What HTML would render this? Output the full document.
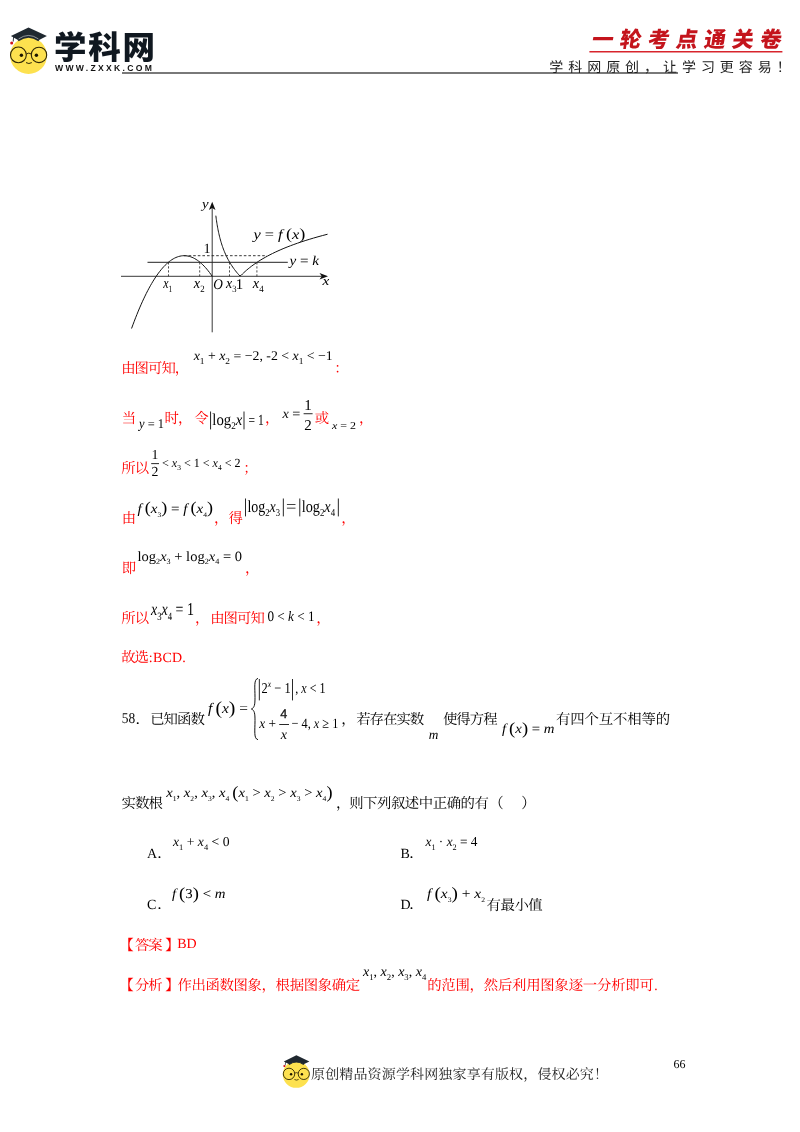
<!DOCTYPE html>
<html lang="zh-CN"><head><meta charset="utf-8"><title>一轮考点通关卷</title>
<style>
html,body{margin:0;padding:0;background:#fff;}
body{width:800px;height:1132px;overflow:hidden;}
svg{display:block;will-change:transform;}
svg text{font-family:'Liberation Serif','Noto Serif CJK SC',serif;white-space:pre;text-rendering:geometricPrecision;}
</style></head><body>
<svg width="800" height="1132" viewBox="0 0 800 1132">
<g id="logo">
<circle cx="28.5" cy="55.6" r="18.4" fill="#fde14f"/>
<path d="M10.9 36.1 L28.5 27.6 L46.9 36.1 L38.6 40.2 Q28.5 33.5 18.4 40.2 Z" fill="#1f2830"/>
<path d="M18.2 40.6 Q28.5 33.2 38.8 40.6" fill="none" stroke="#1f2830" stroke-width="1.6"/>
<path d="M18.6 38.9 Q28.5 32 38.4 38.9" fill="none" stroke="#fff" stroke-width="0.5"/>
<path d="M13.6 37 L13.2 41.6" stroke="#1f2830" stroke-width="0.9" fill="none"/>
<circle cx="11.7" cy="42.9" r="1.5" fill="#d0121b"/>
<circle cx="18.4" cy="54.9" r="7.9" fill="none" stroke="#2e2605" stroke-width="1.1"/>
<circle cx="39" cy="54.9" r="7.7" fill="none" stroke="#2e2605" stroke-width="1.1"/>
<path d="M26.3 54 Q28.8 52.2 31.3 54" fill="none" stroke="#2e2605" stroke-width="1"/>
<circle cx="21.4" cy="55.3" r="1.7" fill="#1b1500"/>
<circle cx="36.4" cy="55.3" r="1.7" fill="#1b1500"/>
<path d="M26 62.6 Q28.9 64.4 31.8 62.6" fill="none" stroke="#2e2605" stroke-width="1"/>
</g>
<text x="54.00" y="58.50" font-size="32.50" fill="#101820" letter-spacing="1.80" font-weight="900" style="font-family:'Liberation Sans','Noto Sans CJK SC',sans-serif">学科网</text>
<text x="55.00" y="71.30" font-size="8.60" fill="#111" letter-spacing="2.30" font-weight="700" style="font-family:'Liberation Sans','Noto Sans CJK SC',sans-serif">WWW.ZXXK.COM</text>
<rect x="122" y="72.4" width="556" height="1.2" fill="#222"/>
<text transform="translate(591,47) skewX(-9)" font-size="21.5" font-weight="900" fill="#c4141c" letter-spacing="6.55" style="font-family:'Noto Sans CJK SC',sans-serif">一轮考点通关卷</text>
<rect x="589.4" y="51" width="193" height="1.5" fill="#d8242c"/>
<text x="549.30" y="71.60" font-size="14.00" fill="#222" letter-spacing="4.95" style="font-family:'Liberation Sans','Noto Sans CJK SC',sans-serif">学科网原创，让学习更容易！</text>
<g id="graph"><line x1="121" y1="276.3" x2="322" y2="276.3" stroke="#222" stroke-width="0.9"/><path d="M328 276.3 L319.5 273.1 L321.8 276.3 L319.5 279.5 Z" fill="#111"/><line x1="212.2" y1="208" x2="212.2" y2="332.3" stroke="#222" stroke-width="0.9"/><path d="M212.2 201.8 L208.89999999999998 210 L212.2 208 L215.5 210 Z" fill="#111"/><polyline points="131.56,328.51 132.90,324.84 134.25,321.26 135.59,317.78 136.94,314.40 138.28,311.11 139.62,307.91 140.97,304.81 142.31,301.80 143.66,298.89 145.00,296.08 146.34,293.35 147.69,290.73 149.03,288.20 150.38,285.76 151.72,283.42 153.06,281.17 154.41,279.02 155.75,276.96 157.10,275.00 158.44,273.14 159.78,271.36 161.13,269.69 162.47,268.10 163.82,266.62 165.16,265.23 166.50,263.93 167.85,262.73 169.19,261.62 170.54,260.61 171.88,259.69 173.22,258.87 174.57,258.14 175.91,257.50 177.26,256.97 178.60,256.52 179.94,256.18 181.29,255.92 182.63,255.76 183.98,255.70 185.32,255.73 186.66,255.86 188.01,256.08 189.35,256.40 190.70,256.81 192.04,257.32 193.38,257.92 194.73,258.61 196.07,259.40 197.42,260.29 198.76,261.27 200.10,262.35 201.45,263.52 202.79,264.78 204.14,266.14 205.48,267.60 206.82,269.15 208.17,270.79 209.51,272.53 210.86,274.37 212.20,276.30" fill="none" stroke="#111" stroke-width="1"/><polyline points="215.84,215.67 216.00,216.95 216.17,218.23 216.34,219.52 216.53,220.80 216.72,222.09 216.92,223.37 217.13,224.65 217.34,225.94 217.57,227.22 217.81,228.50 218.05,229.79 218.31,231.07 218.58,232.36 218.86,233.64 219.16,234.92 219.47,236.21 219.79,237.49 220.12,238.78 220.47,240.06 220.84,241.34 221.22,242.63 221.62,243.91 222.03,245.20 222.47,246.48 222.92,247.76 223.39,249.05 223.89,250.33 224.40,251.62 224.94,252.90 225.50,254.18 226.09,255.47 226.70,256.75 227.34,258.03 228.01,259.32 228.71,260.60 229.44,261.89 230.20,263.17 231.00,264.45 231.83,265.74 232.69,267.02 233.60,268.31 234.54,269.59 235.53,270.87 236.56,272.16 237.63,273.44 238.76,274.73 239.93,276.01 241.15,275.31 242.43,274.02 243.76,272.74 245.16,271.45 246.61,270.17 248.13,268.89 249.72,267.60 251.37,266.32 253.10,265.04 254.91,263.75 256.80,262.47 258.76,261.18 260.82,259.90 262.97,258.62 265.21,257.33 267.55,256.05 269.99,254.76 272.54,253.48 275.21,252.20 277.99,250.91 280.89,249.63 283.93,248.34 287.09,247.06 290.40,245.78 293.85,244.49 297.46,243.21 301.22,241.92 305.15,240.64 309.25,239.36 313.54,238.07 318.01,236.79 322.68,235.51 327.56,234.22" fill="none" stroke="#111" stroke-width="1"/><line x1="147.5" y1="262.3" x2="287.8" y2="262.3" stroke="#222" stroke-width="1"/><line x1="184" y1="255.7" x2="267" y2="255.7" stroke="#222" stroke-width="0.9" stroke-dasharray="2.6 2"/><line x1="168.5" y1="262.3" x2="168.5" y2="276.3" stroke="#222" stroke-width="0.8" stroke-dasharray="2.2 1.8"/><line x1="199.7" y1="262.3" x2="199.7" y2="276.3" stroke="#222" stroke-width="0.8" stroke-dasharray="2.2 1.8"/><line x1="229.5" y1="262.3" x2="229.5" y2="276.3" stroke="#222" stroke-width="0.8" stroke-dasharray="2.2 1.8"/><line x1="256.9" y1="262.3" x2="256.9" y2="276.3" stroke="#222" stroke-width="0.8" stroke-dasharray="2.2 1.8"/></g>
<text id="m1" transform="translate(202,207.8) scale(1.1416,1.0000)" font-size="13" fill="#000"><tspan font-style="italic">y</tspan></text>
<text id="m2" transform="translate(322.6,285.3) scale(1.1762,1.0000)" font-size="13" fill="#000"><tspan font-style="italic">x</tspan></text>
<text id="m3" transform="translate(203.6,253.4)" font-size="14.2" fill="#000"><tspan>1</tspan></text>
<text id="m4" transform="translate(163.2,288) scale(0.7701,1.0000)" font-size="15.5" fill="#000"><tspan font-style="italic">x</tspan><tspan font-size="9.61" dy="4.19">1</tspan><tspan dy="-4.19">​</tspan></text>
<text id="m5" transform="translate(193.8,288) scale(0.9241,1.0000)" font-size="15.5" fill="#000"><tspan font-style="italic">x</tspan><tspan font-size="9.61" dy="4.19">2</tspan><tspan dy="-4.19">​</tspan></text>
<text id="m6" transform="translate(213.2,289.2) scale(0.8982,1.0000)" font-size="14.8" fill="#000"><tspan font-style="italic">O</tspan></text>
<text id="m7" transform="translate(226,288) scale(0.8984,1.0000)" font-size="15.5" fill="#000"><tspan font-style="italic">x</tspan><tspan font-size="9.61" dy="4.19">3</tspan><tspan dy="-4.19">​</tspan></text>
<text id="m8" transform="translate(235.8,289.2)" font-size="14.8" fill="#000"><tspan>1</tspan></text>
<text id="m9" transform="translate(252.8,288) scale(0.9241,1.0000)" font-size="15.5" fill="#000"><tspan font-style="italic">x</tspan><tspan font-size="9.61" dy="4.19">4</tspan><tspan dy="-4.19">​</tspan></text>
<text id="m10" transform="translate(253.4,238.6) scale(1.1681,1.0000)" font-size="14" fill="#000"><tspan font-style="italic">y</tspan><tspan> = </tspan><tspan font-style="italic">f</tspan><tspan> </tspan><tspan font-size="15.68" dy="0.30">(</tspan><tspan font-style="italic" dy="-0.30">x</tspan><tspan font-size="15.68" dy="0.30">)</tspan><tspan dy="-0.30">​</tspan></text>
<text id="m11" transform="translate(289.4,264.7) scale(1.1185,1.0000)" font-size="13.5" fill="#000"><tspan font-style="italic">y</tspan><tspan> = </tspan><tspan font-style="italic">k</tspan></text>
<text x="121.13" y="372.86" font-size="14.38" fill="#ff0000" letter-spacing="-0.94">由图可知，</text>
<text id="m12" transform="translate(193.7,360) scale(1.0308,1.0000)" font-size="13.4" fill="#000"><tspan font-style="italic">x</tspan><tspan font-size="9.11" dy="3.62">1</tspan><tspan dy="-3.62"> + </tspan><tspan font-style="italic">x</tspan><tspan font-size="9.11" dy="3.62">2</tspan><tspan dy="-3.62"> = −2, -2 &lt; </tspan><tspan font-style="italic">x</tspan><tspan font-size="9.11" dy="3.62">1</tspan><tspan dy="-3.62"> &lt; −1</tspan></text>
<text x="334.13" y="373.46" font-size="14.38" fill="#ff0000" letter-spacing="-0.94">：</text>
<text x="121.83" y="423.26" font-size="14.38" fill="#ff0000" letter-spacing="-0.94">当</text>
<text id="m13" transform="translate(139,427.5) scale(0.9292,1.0000)" font-size="13.4" fill="#000"><tspan font-style="italic">y</tspan><tspan> = 1</tspan></text>
<text x="164.53" y="423.26" font-size="14.38" fill="#ff0000" letter-spacing="-0.94">时，</text>
<text x="194.13" y="423.26" font-size="14.38" fill="#ff0000" letter-spacing="-0.94">令</text>
<rect x="210.15" y="411.5" width="0.9" height="17.90" fill="#111"/>
<text id="m14" transform="translate(212.3,424.75) scale(0.8947,1.0000)" font-size="16.5" fill="#000"><tspan>log</tspan><tspan font-size="10.23" dy="4.46">2</tspan><tspan font-style="italic" dy="-4.46">x</tspan></text>
<rect x="243.55" y="411.5" width="0.9" height="17.90" fill="#111"/>
<text id="m15" transform="translate(248.6,424.75) scale(0.7512,1.0000)" font-size="15.4" fill="#000"><tspan>= 1</tspan></text>
<text x="265.03" y="423.26" font-size="14.38" fill="#ff0000" letter-spacing="-0.94">，</text>
<text id="m16" transform="translate(282.4,418) scale(1.0588,1.0000)" font-size="13.5" fill="#000"><tspan font-style="italic">x</tspan><tspan> =</tspan></text>
<text id="m17" transform="translate(304.2,409.5)" font-size="15" fill="#000"><tspan>1</tspan></text>
<rect x="303.6" y="413.3" width="9" height="0.9" fill="#111"/>
<text id="m18" transform="translate(304.2,429.6)" font-size="15" fill="#000"><tspan>2</tspan></text>
<text x="314.73" y="423.26" font-size="14.38" fill="#ff0000" letter-spacing="-0.94">或</text>
<text id="m19" transform="translate(332,428.7) scale(1.1378,1.0000)" font-size="10.5" fill="#000"><tspan font-style="italic">x</tspan><tspan> = 2</tspan></text>
<text x="358.93" y="423.26" font-size="14.38" fill="#ff0000" letter-spacing="-0.94">，</text>
<text x="121.33" y="472.66" font-size="14.38" fill="#ff0000" letter-spacing="-0.94">所以</text>
<text id="m20" transform="translate(151.6,458.8)" font-size="13.8" fill="#000"><tspan>1</tspan></text>
<rect x="151.2" y="463.2" width="7.8" height="0.9" fill="#111"/>
<text id="m21" transform="translate(151.6,476.4)" font-size="13.8" fill="#000"><tspan>2</tspan></text>
<text id="m22" transform="translate(162,467) scale(0.9723,1.0000)" font-size="12.4" fill="#000"><tspan>&lt; </tspan><tspan font-style="italic">x</tspan><tspan font-size="7.69" dy="3.35">3</tspan><tspan dy="-3.35"> &lt; 1 &lt; </tspan><tspan font-style="italic">x</tspan><tspan font-size="7.69" dy="3.35">4</tspan><tspan dy="-3.35"> &lt; 2</tspan></text>
<text x="243.13" y="472.66" font-size="14.38" fill="#ff0000" letter-spacing="-0.94">；</text>
<text x="121.83" y="522.86" font-size="14.38" fill="#ff0000" letter-spacing="-0.94">由</text>
<text id="m23" transform="translate(137.5,513) scale(1.0922,1.0000)" font-size="13.8" fill="#000"><tspan font-style="italic">f</tspan><tspan> </tspan><tspan font-size="16.56" dy="0.40">(</tspan><tspan font-style="italic" dy="-0.40">x</tspan><tspan font-size="6.90" dy="3.73">3</tspan><tspan font-size="16.56" dy="-3.33">)</tspan><tspan dy="-0.40"> = </tspan><tspan font-style="italic">f</tspan><tspan> </tspan><tspan font-size="16.56" dy="0.40">(</tspan><tspan font-style="italic" dy="-0.40">x</tspan><tspan font-size="6.90" dy="3.73">4</tspan><tspan font-size="16.56" dy="-3.33">)</tspan><tspan dy="-0.40">​</tspan></text>
<text x="213.93" y="522.86" font-size="14.38" fill="#ff0000" letter-spacing="-0.94">，</text>
<text x="228.53" y="522.86" font-size="14.38" fill="#ff0000" letter-spacing="-0.94">得</text>
<rect x="245.05" y="498.5" width="0.9" height="17.90" fill="#111"/>
<text id="m24" transform="translate(247.4,511.6) scale(0.8214,1.0000)" font-size="17" fill="#000"><tspan>log</tspan><tspan font-size="10.54" dy="4.59">2</tspan><tspan font-style="italic" dy="-4.59">x</tspan><tspan font-size="10.54" dy="4.59">3</tspan><tspan dy="-4.59">​</tspan></text>
<rect x="282.85" y="498.5" width="0.9" height="17.90" fill="#111"/>
<text id="m25" transform="translate(286,511.6) scale(1.0840,1.0000)" font-size="17" fill="#000"><tspan>=</tspan></text>
<rect x="299.35" y="498.5" width="0.9" height="17.90" fill="#111"/>
<text id="m26" transform="translate(301.7,511.6) scale(0.8389,1.0000)" font-size="17" fill="#000"><tspan>log</tspan><tspan font-size="10.54" dy="4.59">2</tspan><tspan font-style="italic" dy="-4.59">x</tspan><tspan font-size="10.54" dy="4.59">4</tspan><tspan dy="-4.59">​</tspan></text>
<rect x="337.85" y="498.5" width="0.9" height="17.90" fill="#111"/>
<text x="341.33" y="522.86" font-size="14.38" fill="#ff0000" letter-spacing="-0.94">，</text>
<text x="121.83" y="572.86" font-size="14.38" fill="#ff0000" letter-spacing="-0.94">即</text>
<text id="m27" transform="translate(137.5,560.5) scale(1.0236,1.0000)" font-size="14.2" fill="#000"><tspan>log</tspan><tspan font-size="7.95" dy="3.83">2</tspan><tspan font-style="italic" dy="-3.83">x</tspan><tspan font-size="7.95" dy="3.83">3</tspan><tspan dy="-3.83"> + </tspan><tspan>log</tspan><tspan font-size="7.95" dy="3.83">2</tspan><tspan font-style="italic" dy="-3.83">x</tspan><tspan font-size="7.95" dy="3.83">4</tspan><tspan dy="-3.83"> = 0</tspan></text>
<text x="244.93" y="572.86" font-size="14.38" fill="#ff0000" letter-spacing="-0.94">，</text>
<text x="121.33" y="622.86" font-size="14.38" fill="#ff0000" letter-spacing="-0.94">所以</text>
<text id="m28" transform="translate(151,615) scale(0.7774,1.0000)" font-size="18" fill="#000"><tspan font-style="italic">x</tspan><tspan font-size="11.16" dy="4.86">3</tspan><tspan font-style="italic" dy="-4.86">x</tspan><tspan font-size="11.16" dy="4.86">4</tspan><tspan dy="-4.86"> = 1</tspan></text>
<text x="194.93" y="622.86" font-size="14.38" fill="#ff0000" letter-spacing="-0.94">，</text>
<text x="210.13" y="622.86" font-size="14.38" fill="#ff0000" letter-spacing="-0.94">由图可知</text>
<text id="m29" transform="translate(267.5,621.3) scale(0.9071,1.0000)" font-size="14.5" fill="#000"><tspan>0 &lt; </tspan><tspan font-style="italic">k</tspan><tspan> &lt; 1</tspan></text>
<text x="316.33" y="622.86" font-size="14.38" fill="#ff0000" letter-spacing="-0.94">，</text>
<text x="121.13" y="662.46" font-size="14.38" fill="#ff0000" letter-spacing="-0.94">故选</text>
<text x="148.80" y="662.40" font-size="14.00" fill="#ff0000" letter-spacing="0.20">:BCD.</text>
<text id="m30" transform="translate(121.8,723.2) scale(1.0000,1.1200)" font-size="13.44" fill="#000"><tspan>58</tspan></text>
<text x="135.53" y="723.66" font-size="14.38" fill="#000" letter-spacing="-0.94">．</text>
<text x="150.13" y="723.66" font-size="14.38" fill="#000" letter-spacing="-0.94">已知函数</text>
<text id="m31" transform="translate(208,713.2) scale(1.0649,1.0000)" font-size="14.5" fill="#000"><tspan font-style="italic">f</tspan><tspan> </tspan><tspan font-size="18.56" dy="0.80">(</tspan><tspan font-style="italic" dy="-0.80">x</tspan><tspan font-size="18.56" dy="0.80">)</tspan><tspan dy="-0.80"> =</tspan></text>
<path d="M258 678.4 C253.6 679.4 255 687 255 697.5 C255 704.5 254.6 707.6 251.4 709 C254.6 710.4 255 713.5 255 720.5 C255 731 253.6 738.7 258 739.7" fill="none" stroke="#111" stroke-width="1"/>
<rect x="258.85" y="679" width="0.9" height="21.40" fill="#111"/>
<text id="m32" transform="translate(261.6,693.4) scale(0.8260,1.0000)" font-size="15" fill="#000"><tspan>2</tspan><tspan font-style="italic" font-size="9.30" dy="-6.30">x</tspan><tspan dy="6.30"> − 1</tspan></text>
<rect x="292.05" y="679" width="0.9" height="21.40" fill="#111"/>
<text id="m33" transform="translate(295.3,693.4) scale(0.8023,1.0000)" font-size="15" fill="#000"><tspan>, </tspan><tspan font-style="italic">x</tspan><tspan> &lt; 1</tspan></text>
<text id="m34" transform="translate(259.2,727.8) scale(0.9399,1.0000)" font-size="14.2" fill="#000"><tspan font-style="italic">x</tspan><tspan> +</tspan></text>
<text x="280.2" y="717.7" font-size="12.6" font-weight="400" stroke="#111" stroke-width="0.3" fill="#111" style="font-family:'Liberation Sans','Noto Sans CJK SC',sans-serif">4</text>
<rect x="279.2" y="724.05" width="9.80" height="0.9" fill="#111"/>
<text id="m35" transform="translate(280.8,738.6)" font-size="14.2" fill="#000"><tspan font-style="italic">x</tspan></text>
<text id="m36" transform="translate(291.6,727.6) scale(0.8641,1.0000)" font-size="14.2" fill="#000"><tspan>− 4, </tspan><tspan font-style="italic">x</tspan><tspan> ≥ 1</tspan></text>
<text x="341.13" y="723.66" font-size="14.38" fill="#000" letter-spacing="-0.94">，</text>
<text x="356.13" y="723.66" font-size="14.38" fill="#000" letter-spacing="-0.94">若存在实数</text>
<text id="m37" transform="translate(428.8,738.8) scale(0.9846,1.0000)" font-size="13.5" fill="#000"><tspan font-style="italic">m</tspan></text>
<text x="442.93" y="723.66" font-size="14.38" fill="#000" letter-spacing="-0.94">使得方程</text>
<text id="m38" transform="translate(502,733) scale(1.0912,1.0000)" font-size="13.6" fill="#000"><tspan font-style="italic">f</tspan><tspan> </tspan><tspan font-size="17.00" dy="0.60">(</tspan><tspan font-style="italic" dy="-0.60">x</tspan><tspan font-size="17.00" dy="0.60">)</tspan><tspan dy="-0.60"> = </tspan><tspan font-style="italic">m</tspan></text>
<text x="555.93" y="723.66" font-size="14.38" fill="#000" letter-spacing="-0.12">有四个互不相等的</text>
<text x="121.53" y="808.26" font-size="14.38" fill="#000" letter-spacing="-0.94">实数根</text>
<text id="m39" transform="translate(166.2,796.9) scale(1.0606,1.0000)" font-size="13.8" fill="#000"><tspan font-style="italic">x</tspan><tspan font-size="7.18" dy="3.73">1</tspan><tspan dy="-3.73">, </tspan><tspan font-style="italic">x</tspan><tspan font-size="7.18" dy="3.73">2</tspan><tspan dy="-3.73">, </tspan><tspan font-style="italic">x</tspan><tspan font-size="7.18" dy="3.73">3</tspan><tspan dy="-3.73">, </tspan><tspan font-style="italic">x</tspan><tspan font-size="7.18" dy="3.73">4</tspan><tspan dy="-3.73"> </tspan><tspan font-size="17.25" dy="0.60">(</tspan><tspan font-style="italic" dy="-0.60">x</tspan><tspan font-size="7.18" dy="3.73">1</tspan><tspan dy="-3.73"> &gt; </tspan><tspan font-style="italic">x</tspan><tspan font-size="7.18" dy="3.73">2</tspan><tspan dy="-3.73"> &gt; </tspan><tspan font-style="italic">x</tspan><tspan font-size="7.18" dy="3.73">3</tspan><tspan dy="-3.73"> &gt; </tspan><tspan font-style="italic">x</tspan><tspan font-size="7.18" dy="3.73">4</tspan><tspan font-size="17.25" dy="-3.13">)</tspan><tspan dy="-0.60">​</tspan></text>
<text x="335.93" y="808.26" font-size="14.38" fill="#000" letter-spacing="-0.94">，</text>
<text x="349.13" y="808.26" font-size="14.38" fill="#000" letter-spacing="-0.44">则下列叙述中正确的有</text>
<text x="489.13" y="808.26" font-size="14.38" fill="#000" letter-spacing="-0.94">（</text>
<text x="521.13" y="808.26" font-size="14.38" fill="#000" letter-spacing="-0.94">）</text>
<text x="147.00" y="857.50" font-size="14.00" fill="#000">A</text>
<text x="157.13" y="857.86" font-size="14.38" fill="#000" letter-spacing="-0.94">．</text>
<text id="m40" transform="translate(173,846.3) scale(1.0042,1.0000)" font-size="13.6" fill="#000"><tspan font-style="italic">x</tspan><tspan font-size="8.43" dy="3.67">1</tspan><tspan dy="-3.67"> + </tspan><tspan font-style="italic">x</tspan><tspan font-size="8.43" dy="3.67">4</tspan><tspan dy="-3.67"> &lt; 0</tspan></text>
<text x="400.50" y="857.50" font-size="14.00" fill="#000">B</text>
<text x="409.13" y="857.86" font-size="14.38" fill="#000" letter-spacing="-0.94">．</text>
<text id="m41" transform="translate(425.5,846.3) scale(0.9788,1.0000)" font-size="13.6" fill="#000"><tspan font-style="italic">x</tspan><tspan font-size="8.43" dy="3.67">1</tspan><tspan dy="-3.67"> · </tspan><tspan font-style="italic">x</tspan><tspan font-size="8.43" dy="3.67">2</tspan><tspan dy="-3.67"> = 4</tspan></text>
<text x="147.00" y="908.80" font-size="14.00" fill="#000">C</text>
<text x="157.13" y="909.16" font-size="14.38" fill="#000" letter-spacing="-0.94">．</text>
<text id="m42" transform="translate(172,898.4) scale(1.0929,1.0000)" font-size="13.6" fill="#000"><tspan font-style="italic">f</tspan><tspan> </tspan><tspan font-size="17.00" dy="0.60">(</tspan><tspan dy="-0.60">3</tspan><tspan font-size="17.00" dy="0.60">)</tspan><tspan dy="-0.60"> &lt; </tspan><tspan font-style="italic">m</tspan></text>
<text x="400.50" y="908.80" font-size="14.00" fill="#000">D</text>
<text x="409.13" y="909.16" font-size="14.38" fill="#000" letter-spacing="-0.94">．</text>
<text id="m43" transform="translate(427,898.4) scale(1.1164,1.0000)" font-size="13.8" fill="#000"><tspan font-style="italic">f</tspan><tspan> </tspan><tspan font-size="17.25" dy="0.60">(</tspan><tspan font-style="italic" dy="-0.60">x</tspan><tspan font-size="6.90" dy="3.73">3</tspan><tspan font-size="17.25" dy="-3.13">)</tspan><tspan dy="-0.60"> + </tspan><tspan font-style="italic">x</tspan><tspan font-size="6.90" dy="3.73">2</tspan><tspan dy="-3.73">​</tspan></text>
<text x="486.53" y="909.86" font-size="14.38" fill="#000" letter-spacing="-0.44">有最小值</text>
<text x="119.33" y="950.06" font-size="14.38" fill="#ff0000" letter-spacing="-0.94" font-weight="700">【</text>
<text x="134.93" y="950.06" font-size="14.38" fill="#ff0000" letter-spacing="-0.94">答案</text>
<text x="165.33" y="950.06" font-size="14.38" fill="#ff0000" letter-spacing="-0.94" font-weight="700">】</text>
<text x="177.20" y="948.20" font-size="14.00" fill="#ff0000">BD</text>
<text x="119.33" y="990.06" font-size="14.38" fill="#ff0000" letter-spacing="-0.94" font-weight="700">【</text>
<text x="134.93" y="990.06" font-size="14.38" fill="#ff0000" letter-spacing="-0.94">分析</text>
<text x="165.33" y="990.06" font-size="14.38" fill="#ff0000" letter-spacing="-0.94" font-weight="700">】</text>
<text x="177.53" y="990.06" font-size="14.38" fill="#ff0000" letter-spacing="-0.36">作出函数图象，根据图象确定</text>
<text id="m44" transform="translate(363,976.3)" font-size="14" fill="#000"><tspan font-style="italic">x</tspan><tspan font-size="8.68" dy="3.78">1</tspan><tspan dy="-3.78">, </tspan><tspan font-style="italic">x</tspan><tspan font-size="8.68" dy="3.78">2</tspan><tspan dy="-3.78">, </tspan><tspan font-style="italic">x</tspan><tspan font-size="8.68" dy="3.78">3</tspan><tspan dy="-3.78">, </tspan><tspan font-style="italic">x</tspan><tspan font-size="8.68" dy="3.78">4</tspan><tspan dy="-3.78">​</tspan></text>
<text x="427.13" y="990.06" font-size="14.38" fill="#ff0000" letter-spacing="-0.22">的范围，然后利用图象逐一分析即可</text>
<text x="654.20" y="990.00" font-size="13.44" fill="#ff0000">.</text>
<g id="logo2">
<circle cx="296.2" cy="1074.4" r="13.4" fill="#fde14f"/>
<path d="M283.8 1061.4 L296.4 1055.3 L309.4 1061.4 L303.6 1064.2 Q296.4 1059.6 289.2 1064.2 Z" fill="#1f2830"/>
<path d="M289 1064.6 Q296.4 1059.4 303.8 1064.6" fill="none" stroke="#1f2830" stroke-width="1.2"/>
<path d="M285.6 1062 L285.3 1065.2" stroke="#1f2830" stroke-width="0.7" fill="none"/>
<circle cx="284.4" cy="1066.1" r="1.1" fill="#d0121b"/>
<circle cx="289" cy="1073.9" r="5.7" fill="none" stroke="#2e2605" stroke-width="0.9"/>
<circle cx="303.8" cy="1073.9" r="5.6" fill="none" stroke="#2e2605" stroke-width="0.9"/>
<path d="M294.7 1073.2 Q296.4 1072 298.2 1073.2" fill="none" stroke="#2e2605" stroke-width="0.8"/>
<circle cx="291.1" cy="1074.2" r="1.2" fill="#1b1500"/>
<circle cx="301.9" cy="1074.2" r="1.2" fill="#1b1500"/>
<path d="M294.4 1079.5 Q296.5 1080.7 298.6 1079.5" fill="none" stroke="#2e2605" stroke-width="0.8"/>
</g>
<text x="311.00" y="1079.00" font-size="14.00" fill="#222" letter-spacing="0.15">原创精品资源学科网独家享有版权，侵权必究！</text>
<text x="673.60" y="1067.60" font-size="12.00" fill="#000">66</text>
</svg>
</body></html>
